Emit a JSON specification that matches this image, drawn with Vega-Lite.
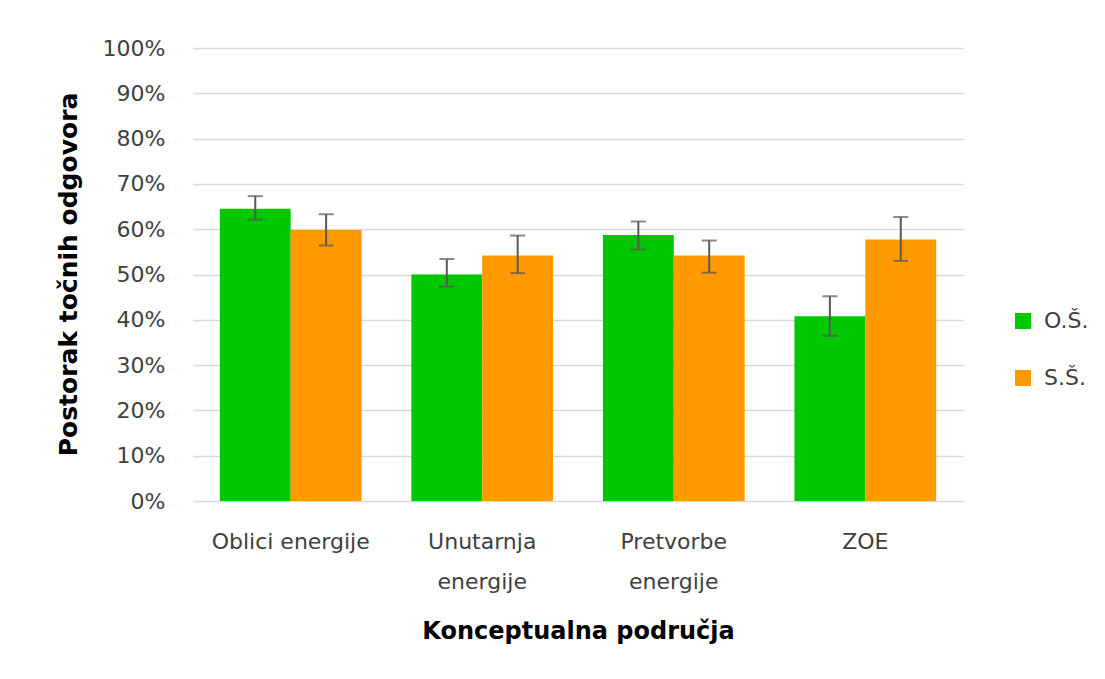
{
  "$schema": "https://vega.github.io/schema/vega-lite/v6.json",
  "autosize": "none",
  "width": 770,
  "height": 453,
  "padding": {"left": 193, "top": 48, "right": 142, "bottom": 178},
  "background": "white",
  "config": {
    "view": {"stroke": null},
    "font": "DejaVu Sans"
  },
  "data": {
    "values": [
      {"podrucje": "Oblici energije", "skola": "O.Š.", "value": 0.645, "lo": 0.621, "hi": 0.673},
      {"podrucje": "Oblici energije", "skola": "S.Š.", "value": 0.598, "lo": 0.564, "hi": 0.633},
      {"podrucje": "Unutarnja energije", "skola": "O.Š.", "value": 0.500, "lo": 0.473, "hi": 0.534},
      {"podrucje": "Unutarnja energije", "skola": "S.Š.", "value": 0.542, "lo": 0.503, "hi": 0.586},
      {"podrucje": "Pretvorbe energije", "skola": "O.Š.", "value": 0.587, "lo": 0.555, "hi": 0.617},
      {"podrucje": "Pretvorbe energije", "skola": "S.Š.", "value": 0.542, "lo": 0.504, "hi": 0.575},
      {"podrucje": "ZOE", "skola": "O.Š.", "value": 0.408, "lo": 0.365, "hi": 0.452},
      {"podrucje": "ZOE", "skola": "S.Š.", "value": 0.577, "lo": 0.530, "hi": 0.627}
    ]
  },
  "encoding": {
    "x": {
      "field": "podrucje",
      "type": "nominal",
      "sort": null,
      "scale": {"paddingInner": 0.26, "paddingOuter": 0.14},
      "axis": {
        "title": "Konceptualna područja",
        "titleFont": "DejaVu Sans",
        "titleFontSize": 24,
        "titleFontWeight": "bold",
        "titleColor": "#000000",
        "titleBaseline": "middle",
        "titleY": 130,
        "labelAngle": 0,
        "labelFont": "DejaVu Sans",
        "labelFontSize": 22,
        "labelColor": "#404040",
        "labelPadding": 30,
        "labelLineHeight": 40,
        "labelExpr": "datum.value == 'Oblici energije' || datum.value == 'ZOE' ? datum.value : split(datum.value, ' ')",
        "domain": false,
        "ticks": false
      }
    },
    "xOffset": {"field": "skola", "type": "nominal", "sort": ["O.Š.", "S.Š."]}
  },
  "layer": [
    {
      "mark": {"type": "bar"},
      "encoding": {
        "y": {
          "field": "value",
          "type": "quantitative",
          "scale": {"domain": [0, 1]},
          "axis": {
            "title": "Postorak točnih odgovora",
            "titleFont": "DejaVu Sans",
            "titleFontSize": 25,
            "titleFontWeight": "bold",
            "titleColor": "#000000",
            "titleBaseline": "middle",
            "titleX": -125,
            "titleY": 226,
            "values": [0, 0.1, 0.2, 0.3, 0.4, 0.5, 0.6, 0.7, 0.8, 0.9, 1],
            "format": ".0%",
            "labelFont": "DejaVu Sans",
            "labelFontSize": 22,
            "labelColor": "#404040",
            "labelPadding": 28,
            "domain": false,
            "ticks": false,
            "grid": true,
            "gridColor": "#d9d9d9",
            "gridWidth": 1.5
          }
        },
        "color": {
          "field": "skola",
          "type": "nominal",
          "sort": ["O.Š.", "S.Š."],
          "scale": {"domain": ["O.Š.", "S.Š."], "range": ["#00c800", "#ff9900"]},
          "legend": {
            "title": null,
            "orient": "none",
            "legendX": 819,
            "legendY": 262,
            "symbolType": "square",
            "symbolSize": 256,
            "symbolStrokeWidth": 0,
            "labelFont": "DejaVu Sans",
            "labelFontSize": 22,
            "labelColor": "#404040",
            "labelOffset": 10,
            "rowPadding": 35
          }
        }
      }
    },
    {
      "mark": {"type": "rule", "color": "#595959", "strokeWidth": 2},
      "encoding": {
        "y": {"field": "lo", "type": "quantitative"},
        "y2": {"field": "hi"}
      }
    },
    {
      "mark": {"type": "tick", "color": "#595959", "thickness": 2, "size": 15, "orient": "horizontal"},
      "encoding": {
        "y": {"field": "lo", "type": "quantitative"}
      }
    },
    {
      "mark": {"type": "tick", "color": "#595959", "thickness": 2, "size": 15, "orient": "horizontal"},
      "encoding": {
        "y": {"field": "hi", "type": "quantitative"}
      }
    }
  ]
}
